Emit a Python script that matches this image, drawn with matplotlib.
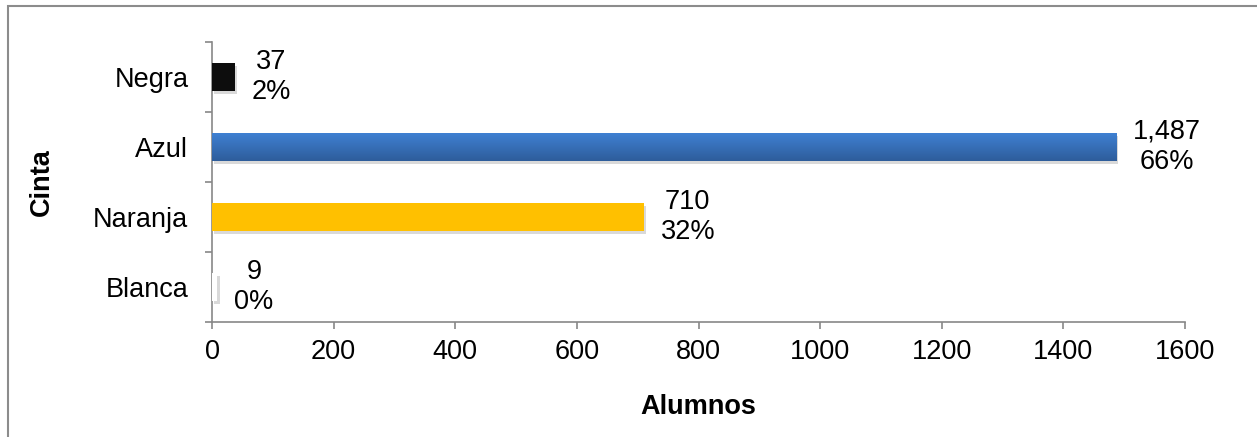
import numpy as np
import matplotlib.pyplot as plt
import matplotlib.patheffects as pe
from matplotlib.patches import Rectangle
from matplotlib.colors import LinearSegmentedColormap

plt.rcParams['font.family'] = ['Liberation Sans', 'DejaVu Sans']

# datos
cintas = ['Blanca', 'Naranja', 'Azul', 'Negra']
alumnos = [9, 710, 1487, 37]
porcentajes = ['0%', '32%', '66%', '2%']
colores = ['#ffffff', '#ffc000', '#3b78c8', '#0d0d0d']

fs = 19.5

fig = plt.figure(figsize=(12.57, 4.37), dpi=100)
ax = fig.add_axes([212 / 1257, 1 - 322 / 437, 973 / 1257, 280 / 437])

# marco del grafico
fig.patches.append(Rectangle((7.5 / 1257, -0.1), 1.2, 1 - 6.5 / 437 + 0.1,
                             transform=fig.transFigure, fill=False,
                             edgecolor='#8c8c8c', linewidth=1.5, zorder=0))

y = np.arange(len(cintas))
sombra = [pe.SimplePatchShadow(offset=(1.5, -2), shadow_rgbFace='#a0a0a0', alpha=0.4), pe.Normal()]
barras = ax.barh(y, alumnos, height=0.4, color=colores, zorder=3)
for b in barras:
    b.set_path_effects(sombra)

# degradado en la barra azul
b = barras[2]
x0, y0 = b.get_x(), b.get_y()
w, h = b.get_width(), b.get_height()
grad = np.linspace(0, 1, 64).reshape(-1, 1)
cmap = LinearSegmentedColormap.from_list('az', ['#3f80d2', '#2e5d9b'])
im = ax.imshow(grad, cmap=cmap, aspect='auto', extent=[x0, x0 + w, y0, y0 + h],
               origin='upper', zorder=4)
im.set_clip_path(b)

for yi, v, p in zip(y, alumnos, porcentajes):
    ax.annotate(f'{v:,}\n{p}', xy=(v, yi), xytext=(12, 0), textcoords='offset points',
                ha='left', va='center', multialignment='center', fontsize=fs,
                zorder=5)

ax.set_xlim(0, 1600)
ax.set_ylim(-0.5, 3.5)
ax.set_xticks(np.arange(0, 1601, 200))
ax.set_yticks(np.arange(-0.5, 3.6, 1))
ax.set_yticklabels([])
ax.set_yticks(y, minor=True)
ax.set_yticklabels(cintas, minor=True)
ax.tick_params(axis='y', which='minor', length=0, pad=17, labelsize=fs)
ax.tick_params(axis='y', which='major', length=5, color='#878787', width=1.2)
ax.tick_params(axis='x', length=5, color='#878787', width=1.2, labelsize=fs, pad=7)

for s in ['top', 'right']:
    ax.spines[s].set_visible(False)
for s in ['left', 'bottom']:
    ax.spines[s].set_color('#878787')
    ax.spines[s].set_linewidth(1.2)

ax.set_xlabel('Alumnos', fontsize=fs, fontweight='bold')
ax.xaxis.set_label_coords(0.5, -(407 - 322) / 280)
ax.xaxis.label.set_va('center')
ax.set_ylabel('Cinta', fontsize=fs, fontweight='bold')
ax.yaxis.set_label_coords(-(212 - 42) / 973, 0.5)
ax.yaxis.label.set_va('center')

fig.savefig('out.png', dpi=100)
